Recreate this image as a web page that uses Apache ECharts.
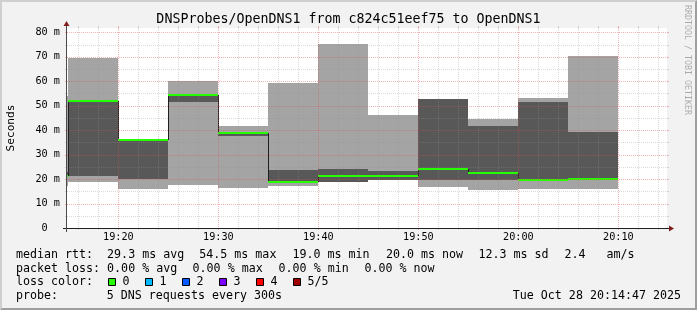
<!DOCTYPE html>
<html><head><meta charset="utf-8">
<script src="https://cdn.jsdelivr.net/npm/echarts@6/dist/echarts.min.js"></script>
<style>html,body{margin:0;padding:0;background:#f2f2f2}#c{width:697px;height:310px}</style>
</head><body><div id="c"></div><script>
// ---- data ----
const intervalEnds = ['19:15','19:20','19:25','19:30','19:35','19:40','19:45','19:50','19:55','20:00','20:05','20:10'];
const pingMin   = [17.3, 18.9, 16.1, 17.7, 16.5, 17.3, 18.9, 19.5, 16.9, 15.5, 16.1, 16.1];
const pingMax   = [54.0, 69.3, 36.1, 59.9, 41.8, 59.4, 75.4, 46.3, 52.8, 44.4, 53.2, 70.5];
const ping2nd   = [21.0, 21.4, 20.0, 51.5, 37.5, 19.0, 18.9, 19.5, 19.5, 19.5, 19.8, 20.0];
const ping4th   = [23.0, 51.9, 36.1, 54.5, 39.0, 23.8, 24.1, 23.3, 52.8, 41.8, 51.6, 39.3];
const medianRtt = [21.4, 51.9, 36.1, 54.5, 39.0, 19.0, 21.4, 21.4, 24.1, 22.6, 19.8, 20.0];
const probeStepMin = 5;
const axisStart = '19:14:52', axisEnd = '20:14:52';
const yTicksLabelled = [0,10,20,30,40,50,60,70,80];
const yMax = 81.75;
const xMajorTicks = ['19:20','19:30','19:40','19:50','20:00','20:10'];
const xMinorTicks = ['19:16','19:18','19:22','19:24','19:26','19:28','19:32','19:34','19:36','19:38','19:42','19:44','19:46','19:48','19:52','19:54','19:56','19:58','20:02','20:04','20:06','20:08','20:12','20:14'];
const yMajorTicks = [10,20,30,40,50,60,70,80];
const yMinorTicks = [5,15,25,35,45,55,65,75];
const lossColors = [['0','#26ff00'],['1','#00b8ff'],['2','#0059ff'],['3','#7e00ff'],['4','#ff0000'],['5/5','#a10000']];

const toMin = s => { const p = s.split(':').map(Number); return p[0]*60 + p[1] + (p[2]||0)/60; };
const fmt = v => { const t = Math.round(v); const h = Math.floor(t/60)%24, m = t%60; return (h<10?'0':'')+h+':'+(m<10?'0':'')+m; };

const smokeData = intervalEnds.map((e,i) => {
  const end = toMin(e);
  return [end - probeStepMin, end, pingMin[i], pingMax[i], ping2nd[i], ping4th[i], medianRtt[i], i>0 ? medianRtt[i-1] : medianRtt[i]];
});
const gridData = [];
xMinorTicks.forEach(t => gridData.push([toMin(t), 0, 0]));
yMinorTicks.forEach(v => gridData.push([v, 1, 0]));
xMajorTicks.forEach(t => gridData.push([toMin(t), 0, 1]));
yMajorTicks.forEach(v => gridData.push([v, 1, 1]));

const MONO = 'DejaVu Sans Mono';
const GL = 67, GT = 28, GW = 600, GH = 200;

function clampX(params, api){
  const cs = params.coordSys;
  const raw0 = api.coord([api.value(0), 0])[0];
  const raw1 = api.coord([api.value(1), 0])[0];
  return {raw0, x0: Math.round(Math.max(cs.x, raw0)), x1: Math.round(Math.min(cs.x+cs.width, raw1)), cs};
}
function renderSmoke(params, api){
  const c = clampX(params, api);
  if (c.x1 <= c.x0) return null;
  const yOf = v => Math.round(api.coord([api.value(1), v])[1]);
  const lt = yOf(api.value(3)), lb = yOf(api.value(2));
  const dt = yOf(api.value(5)), db = yOf(api.value(4));
  return {type:'group', children:[
    {type:'rect', shape:{x:c.x0, y:lt, width:c.x1-c.x0, height:lb-lt}, style:{fill:'#a4a4a4'}},
    {type:'rect', shape:{x:c.x0, y:dt, width:c.x1-c.x0, height:db-dt}, style:{fill:'#585858'}}
  ]};
}
function renderMedian(params, api){
  const c = clampX(params, api);
  if (c.x1 <= c.x0) return null;
  const ym = api.coord([api.value(1), api.value(6)])[1];
  const yp = api.coord([api.value(1), api.value(7)])[1];
  const children = [];
  if (c.raw0 >= c.cs.x && Math.abs(ym-yp) > 0.5) {
    const X = Math.round(c.raw0) + 0.5;
    children.push({type:'line', shape:{x1:X, y1:Math.round(yp), x2:X, y2:Math.round(ym)}, style:{stroke:'#202020', lineWidth:1}});
  }
  children.push({type:'rect', shape:{x:c.x0, y:Math.round(ym-1), width:c.x1-c.x0, height:2}, style:{fill:'#26ff00'}});
  return {type:'group', children};
}
function renderGrid(params, api){
  const cs = params.coordSys;
  const val = api.value(0), dir = api.value(1), major = api.value(2);
  const color = major ? 'rgba(222,79,79,0.42)' : 'rgba(143,143,143,0.34)';
  const solid = {stroke:color, lineWidth:1};
  const dash = {stroke:color, lineWidth:1, lineDash:[1,1]};
  if (dir === 0) {
    const X = Math.round(api.coord([val, 0])[0]) + 0.5;
    const top = cs.y, bot = cs.y + cs.height;
    return {type:'group', children:[
      {type:'line', shape:{x1:X,y1:top-2,x2:X,y2:top}, style:solid},
      {type:'line', shape:{x1:X,y1:top,x2:X,y2:bot}, style:dash},
      {type:'line', shape:{x1:X,y1:bot,x2:X,y2:bot+2}, style:solid}
    ]};
  }
  const Y = Math.round(api.coord([toMin(axisStart), val])[1]) + 0.5;
  const l = cs.x, r = cs.x + cs.width;
  return {type:'group', children:[
    {type:'line', shape:{x1:l-2,y1:Y,x2:l,y2:Y}, style:solid},
    {type:'line', shape:{x1:l,y1:Y,x2:r,y2:Y}, style:dash},
    {type:'line', shape:{x1:r,y1:Y,x2:r+2,y2:Y}, style:solid}
  ]};
}

const legendFont = {fontFamily: MONO, fontSize: 11.65, fill: '#000', verticalAlign: 'middle'};
const rows = [255.3, 268.8, 282.3, 295.9];
const txt = (s, x, y, extra) => ({type:'text', x, y, z:20, style: Object.assign({text:s}, legendFont, extra||{})});
const graphics = [
  {type:'polygon', z:1, shape:{points:[[0,310],[2,308],[2,2],[695,2],[697,0],[0,0]]}, style:{fill:'#cfcfcf'}},
  {type:'polygon', z:1, shape:{points:[[697,0],[695,2],[695,308],[2,308],[0,310],[697,310]]}, style:{fill:'#9e9e9e'}},
  {type:'rect', z:-10, shape:{x:GL, y:GT, width:GW, height:GH}, style:{fill:'#ffffff'}},
  {type:'line', z:20, shape:{x1:GL-4, y1:GT+GH+0.5, x2:GL+GW+4, y2:GT+GH+0.5}, style:{stroke:'#1f1f1f', lineWidth:1}},
  {type:'line', z:20, shape:{x1:GL-0.5, y1:GT+GH+4, x2:GL-0.5, y2:GT-4}, style:{stroke:'#4a4a4a', lineWidth:1}},
  {type:'polygon', z:21, shape:{points:[[GL+GW+2,GT+GH-2.5],[GL+GW+2,GT+GH+3.5],[GL+GW+7,GT+GH+0.5]]}, style:{fill:'#801f1f'}},
  {type:'polygon', z:21, shape:{points:[[GL-3.5,GT-2],[GL+2.5,GT-2],[GL-0.5,GT-7]]}, style:{fill:'#801f1f'}},
  {type:'text', x:348.5, y:19.6, z:20, style:{text:'DNSProbes/OpenDNS1 from c824c51eef75 to OpenDNS1', fontFamily:MONO, fontSize:13.3, fill:'#000', align:'center', verticalAlign:'middle'}},
  {type:'text', x:10.8, y:128, rotation:Math.PI/2, z:20, style:{text:'Seconds', fontFamily:MONO, fontSize:11.2, fill:'#000', align:'center', verticalAlign:'middle'}},
  {type:'text', x:687, y:60, rotation:-Math.PI/2, z:20, style:{text:'RRDTOOL / TOBI OETIKER', fontFamily:MONO, fontSize:8.3, fill:'rgba(0,0,0,0.3)', align:'center', verticalAlign:'middle'}},
  txt('median rtt:  29.3 ms avg', 16, rows[0]),
  txt('54.5 ms max', 199.3, rows[0]),
  txt('19.0 ms min', 292.4, rows[0]),
  txt('20.0 ms now', 386, rows[0]),
  txt('12.3 ms sd', 478.5, rows[0]),
  txt('2.4   am/s', 564.5, rows[0]),
  txt('packet loss: 0.00 % avg', 16, rows[1]),
  txt('0.00 % max', 192.6, rows[1]),
  txt('0.00 % min', 278.6, rows[1]),
  txt('0.00 % now', 364.4, rows[1]),
  txt('loss color:', 16, rows[2]),
  txt('probe:', 16, rows[3]),
  txt('5 DNS requests every 300s', 106.8, rows[3]),
  txt('Tue Oct 28 20:14:47 2025', 681, rows[3], {align:'right'})
];
lossColors.forEach((lc, i) => {
  const bx = 108.5 + i*37;
  graphics.push({type:'rect', z:20, shape:{x:bx, y:278.5, width:7, height:7}, style:{fill:lc[1], stroke:'#000', lineWidth:1}});
  graphics.push(txt(lc[0], bx + 14, rows[2]));
});

const chart = echarts.init(document.getElementById('c'), null, {renderer:'canvas'});
chart.setOption({
  animation: false,
  backgroundColor: '#f2f2f2',
  grid: {left: GL, top: GT, width: GW, height: GH, containLabel: false},
  xAxis: {
    type: 'value', min: toMin(axisStart), max: toMin(axisEnd),
    axisLine: {show:false}, axisTick: {show:false}, splitLine: {show:false},
    axisLabel: {margin: 4, fontFamily: MONO, fontSize: 10.2, color: '#000', showMinLabel: false, showMaxLabel: false,
      formatter: v => xMajorTicks.includes(fmt(v)) ? fmt(v) : ''}
  },
  yAxis: {
    type: 'value', min: 0, max: yMax, interval: 10,
    axisLine: {show:false}, axisTick: {show:false}, splitLine: {show:false},
    axisLabel: {margin: 7, padding: [2,0,0,0], fontFamily: MONO, fontSize: 10.2, color: '#000', showMaxLabel: false,
      formatter: v => yTicksLabelled.includes(v) ? (v === 0 ? '0  ' : v + ' m') : ''}
  },
  graphic: graphics,
  series: [
    {type:'custom', name:'smoke', z:2, clip:true, renderItem: renderSmoke, data: smokeData, silent:true},
    {type:'custom', name:'median', z:3, clip:true, renderItem: renderMedian, data: smokeData, silent:true},
    {type:'custom', name:'grid', z:4, clip:false, renderItem: renderGrid, data: gridData, silent:true}
  ]
});
</script></body></html>
